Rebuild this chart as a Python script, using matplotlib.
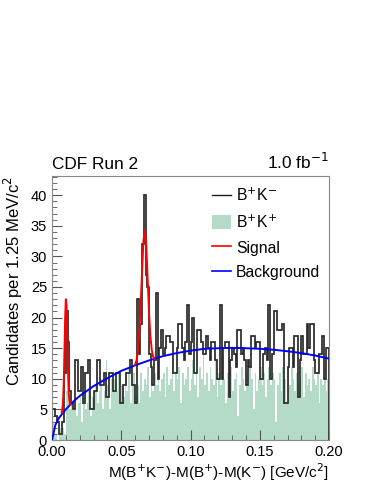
import numpy as np
import matplotlib.pyplot as plt
from matplotlib.ticker import MultipleLocator
from matplotlib.lines import Line2D
from matplotlib.patches import Patch

plt.rcParams['font.family'] = ['Liberation Sans', 'DejaVu Sans']

# bin edges: 160 bins of 1.25 MeV from 0 to 0.2 GeV
bin_lo = 0.0
bin_hi = 0.2
n_bins = 160

# B+K- candidates per bin
bk_minus = [
    5, 5, 4, 3, 1, 1, 3, 11, 21, 16, 8, 6,
    5, 13, 13, 8, 8, 12, 6, 11, 11, 13, 5, 5,
    8, 8, 13, 13, 9, 9, 11, 7, 7, 11, 11, 8,
    8, 11, 11, 6, 6, 9, 9, 11, 11, 13, 9, 9,
    6, 23, 14, 19, 32, 40, 27, 25, 14, 12, 9, 13, 24, 10, 15, 18,
    14, 15, 17, 17, 16, 16, 11, 11, 15, 19, 19, 15, 13, 16, 22, 14,
    16, 20, 11, 11, 18, 18, 16, 14, 14, 17, 15, 13, 16, 16, 13, 10,
    10, 22, 10, 15, 16, 16, 7, 13, 15, 14, 12, 18, 18, 14, 15, 13,
    9, 13, 12, 17, 17, 15, 16, 16, 10, 10, 14, 15, 13, 22, 10, 14,
    21, 21, 18, 18, 18, 19, 6, 6, 12, 15, 15, 12, 17, 17, 7, 13,
    17, 14, 14, 19, 15, 19, 19, 13, 11, 11, 14, 14, 17, 10, 15, 15,
]

# B+K+ (wrong sign) candidates per bin
bk_plus = [
    3, 2, 1, 0, 2, 3, 2, 1, 8, 6, 5, 6,
    5, 7, 4, 6, 7, 3, 7, 5, 6, 8, 4, 7,
    7, 9, 6, 8, 10, 5, 8, 13, 9, 5, 10, 8,
    10, 8, 11, 6, 9, 7, 10, 8, 12, 6, 9, 11,
    7, 9, 6, 11, 8, 10, 9, 12, 7, 10, 8, 11, 9, 14, 8, 10,
    11, 7, 12, 9, 10, 13, 8, 11, 10, 12, 6, 11, 9, 10, 12, 8,
    10, 13, 9, 11, 7, 12, 10, 16, 9, 11, 8, 12, 10, 9, 13, 7,
    11, 9, 12, 10, 6, 11, 9, 12, 8, 10, 11, 4, 9, 12, 10, 8,
    11, 9, 12, 10, 5, 11, 8, 10, 12, 9, 11, 7, 10, 12, 9, 11,
    10, 3, 9, 11, 8, 12, 10, 6, 11, 9, 12, 10, 8, 11, 9, 10,
    12, 7, 11, 9, 10, 8, 12, 10, 9, 11, 6, 10, 9, 12, 8, 10,
]

# background fit curve, read at points
bkg_x = [0.0, 0.0025, 0.005, 0.01, 0.015, 0.02, 0.03, 0.04, 0.05, 0.06, 0.07,
         0.08, 0.09, 0.10, 0.11, 0.12, 0.13, 0.14, 0.15, 0.16, 0.17, 0.18,
         0.19, 0.20]
bkg_y = [0.0, 2.5, 3.6, 5.0, 6.2, 7.2, 8.8, 10.1, 11.3, 12.2, 13.0,
         13.7, 14.2, 14.6, 14.9, 15.0, 15.05, 15.0, 14.9, 14.75, 14.5, 14.2,
         13.8, 13.3]

# signal + background around the two peaks
sig1_x = [0.0070, 0.0075, 0.0080, 0.0085, 0.0090, 0.0095, 0.0100, 0.0105,
          0.0110, 0.0115, 0.0120, 0.0125, 0.0130, 0.0135]
sig1_y = [4.5, 5.0, 6.5, 9.5, 14.5, 20.0, 23.0, 22.0, 17.5, 11.8, 8.0, 6.4,
          5.8, 5.8]
sig2_x = [0.060, 0.061, 0.062, 0.063, 0.064, 0.065, 0.066, 0.0669, 0.068,
          0.069, 0.070, 0.071, 0.072, 0.073, 0.074]
sig2_y = [12.3, 13.0, 14.5, 17.5, 22.0, 27.5, 32.5, 34.3, 32.0, 26.5, 21.0,
          17.0, 14.7, 13.6, 13.3]

edges = np.linspace(bin_lo, bin_hi, n_bins + 1)
green = '#b3dbc7'

fig = plt.figure(figsize=(3.74, 4.84), dpi=100)
ax = fig.add_axes([0.139, 0.0909, 0.741, 0.545])

ax.stairs(bk_plus, edges, fill=True, color=green, zorder=1)
ax.stairs(bk_minus, edges, color='#2a2a2a', linewidth=1.25, zorder=2)
ax.plot(bkg_x, bkg_y, color='blue', linewidth=1.4, zorder=3)
ax.plot(sig1_x, sig1_y, color='red', linewidth=1.4, zorder=4)
ax.plot(sig2_x, sig2_y, color='red', linewidth=1.4, zorder=4)

ax.set_xlim(0, 0.2)
ax.set_ylim(0, 43.1)
ax.xaxis.set_major_locator(MultipleLocator(0.05))
ax.xaxis.set_minor_locator(MultipleLocator(0.01))
ax.yaxis.set_major_locator(MultipleLocator(5))
ax.yaxis.set_minor_locator(MultipleLocator(1))
ax.xaxis.set_major_formatter(plt.FormatStrFormatter('%.2f'))
ax.tick_params(which='both', direction='in', top=False, right=False,
               labelsize=10.5, color='#555555')
ax.tick_params(which='major', length=7)
ax.tick_params(which='minor', length=3.5)
for s in ax.spines.values():
    s.set_color('#888888')

ax.set_xlabel('M(B$^{+}$K$^{-}$)-M(B$^{+}$)-M(K$^{-}$) [GeV/c$^{2}$]',
              loc='right', fontsize=11, labelpad=2)
ax.set_ylabel('Candidates per 1.25 MeV/c$^{2}$', loc='top', fontsize=12)

ax.text(0.0, 1.015, 'CDF Run 2', transform=ax.transAxes, fontsize=12.4,
        ha='left', va='bottom')
ax.text(1.0, 1.015, '1.0 fb$^{-1}$', transform=ax.transAxes, fontsize=12.4,
        ha='right', va='bottom')

leg_handles = [Line2D([], [], color='#1a1a1a', lw=1.0),
               Patch(facecolor=green, edgecolor='none'),
               Line2D([], [], color='red', lw=1.2),
               Line2D([], [], color='blue', lw=1.2)]
leg_labels = ['B$^{+}$K$^{-}$', 'B$^{+}$K$^{+}$', 'Signal', 'Background']
ax.legend(leg_handles, leg_labels, loc='upper left', frameon=False,
          fontsize=11.3, handlelength=1.21, handleheight=1.0,
          handletextpad=0.32, labelspacing=0.6, borderpad=0,
          borderaxespad=0, bbox_to_anchor=(0.578, 0.96))

fig.savefig('out.png', dpi=100)
